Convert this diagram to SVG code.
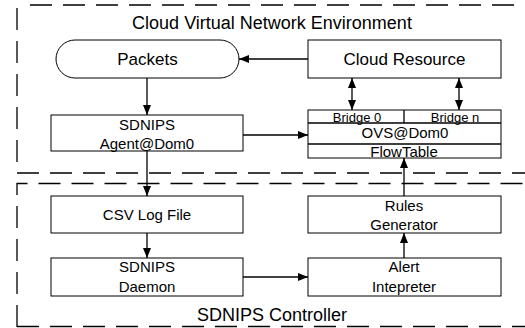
<svg xmlns="http://www.w3.org/2000/svg" width="525" height="328" viewBox="0 0 525 328">
<defs>
<marker id="ah" viewBox="0 0 10 8" refX="10" refY="4" markerWidth="10" markerHeight="8" markerUnits="userSpaceOnUse" orient="auto-start-reverse">
<path d="M0,0 L10,4 L0,8 z" fill="#000"/>
</marker>
<style>
text{font-family:"Liberation Sans",Arial,sans-serif;fill:#000;text-anchor:middle}
.box{fill:#fff;stroke:#000;stroke-width:1}
.dash{fill:none;stroke:#000;stroke-width:1.3;stroke-dasharray:22 11}
.conn{fill:none;stroke:#000;stroke-width:1.3}
.big{font-size:17px}
.title{font-size:18px}
.mid{font-size:15px}
.sm{font-size:13px}
</style>
</defs>
<rect width="525" height="328" fill="#fff"/>
<g id="regions">
<path class="dash" d="M17,8 L17,173 L540,173"/>
<path class="dash" d="M30,5 L540,5"/>
<path class="dash" d="M17,327 L17,183.5 L540,183.5"/>
<path class="dash" d="M17,326.5 L540,326.5"/>
<text class="title" x="272" y="29">Cloud Virtual Network Environment</text>
<text class="title" x="272" y="321">SDNIPS Controller</text>
</g>
<g id="connectors">
<line class="conn" x1="308" y1="59" x2="239" y2="59" marker-end="url(#ah)"/>
<line class="conn" x1="147" y1="78" x2="147" y2="115" marker-end="url(#ah)"/>
<line class="conn" x1="243" y1="135" x2="308" y2="135" marker-end="url(#ah)"/>
<line class="conn" x1="352" y1="78" x2="352" y2="110" marker-start="url(#ah)" marker-end="url(#ah)"/>
<line class="conn" x1="459" y1="78" x2="459" y2="110" marker-start="url(#ah)" marker-end="url(#ah)"/>
<line class="conn" x1="147" y1="151" x2="147" y2="196" marker-end="url(#ah)"/>
<line class="conn" x1="147" y1="233" x2="147" y2="258" marker-end="url(#ah)"/>
<line class="conn" x1="243" y1="277" x2="308" y2="277" marker-end="url(#ah)"/>
<line class="conn" x1="404" y1="258" x2="404" y2="233" marker-end="url(#ah)"/>
<line class="conn" x1="404" y1="196" x2="404" y2="158" marker-end="url(#ah)"/>
</g>
<g id="packets">
<rect class="box" x="56" y="40" width="183" height="38" rx="19" ry="19"/>
<text class="big" x="147.5" y="65">Packets</text>
</g>
<g id="cloud-resource">
<rect class="box" x="308" y="40" width="193" height="38"/>
<text class="big" x="404.5" y="65">Cloud Resource</text>
</g>
<g id="agent">
<rect class="box" x="51" y="115" width="192" height="36"/>
<text class="mid" x="147" y="130">SDNIPS</text>
<text class="mid" x="147" y="149">Agent@Dom0</text>
</g>
<g id="ovs">
<rect class="box" x="308" y="110" width="193" height="48"/>
<line class="conn" x1="308" y1="123" x2="501" y2="123" stroke-width="1"/>
<line class="conn" x1="308" y1="144" x2="501" y2="144" stroke-width="1"/>
<line class="conn" x1="404" y1="110" x2="404" y2="123" stroke-width="1"/>
<text class="sm" x="357" y="121.5">Bridge 0</text>
<text class="sm" x="455" y="121.5">Bridge n</text>
<text class="mid" x="405" y="138">OVS@Dom0</text>
<text class="mid" x="404" y="157">FlowTable</text>
</g>
<g id="csv">
<rect class="box" x="51" y="196" width="192" height="37"/>
<text class="mid" x="147" y="220">CSV Log File</text>
</g>
<g id="daemon">
<rect class="box" x="51" y="258" width="192" height="38"/>
<text class="mid" x="147" y="272">SDNIPS</text>
<text class="mid" x="147" y="292">Daemon</text>
</g>
<g id="rules">
<rect class="box" x="308" y="196" width="193" height="37"/>
<text class="mid" x="404" y="211">Rules</text>
<text class="mid" x="404" y="230">Generator</text>
</g>
<g id="alert">
<rect class="box" x="308" y="258" width="193" height="38"/>
<text class="mid" x="404" y="272">Alert</text>
<text class="mid" x="404" y="292">Intepreter</text>
</g>
</svg>
